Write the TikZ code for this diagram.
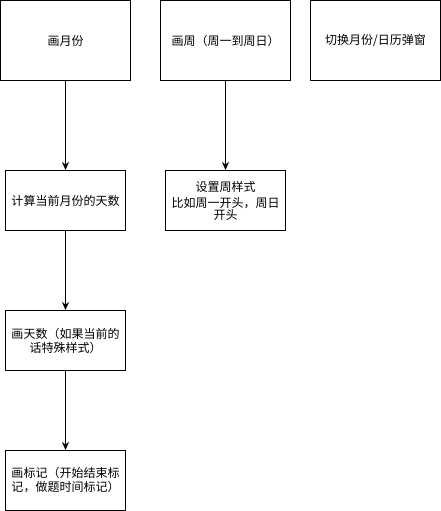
\documentclass[tikz,border=0pt]{standalone}
\usepackage{fontspec}
\setmainfont{Noto Sans CJK SC}
\usetikzlibrary{arrows.meta}
\begin{document}
\begin{tikzpicture}[x=1pt,y=-1pt,
  box/.style={draw=black,line width=1pt,fill=white,inner sep=0pt,align=center,
    font=\fontsize{12pt}{14pt}\selectfont},
  arr/.style={line width=1pt,-{Stealth[length=8pt,width=7pt]}}]
\useasboundingbox (0,0) rectangle (441,511);
\node[box,minimum width=130pt,minimum height=79pt] (m) at (65.5,40.5) {画月份};
\node[box,minimum width=130pt,minimum height=79pt] (w) at (225.5,40.5) {画周（周一到周日）};
\node[box,minimum width=130pt,minimum height=79pt] (s) at (375.5,40.5) {切换月份/日历弹窗};
\node[box,minimum width=120pt,minimum height=60pt] (c) at (65.5,200.5) {计算当前月份的天数};
\node[box,minimum width=120pt,minimum height=60pt] (ws) at (225.5,200.5) {设置周样式\\[2pt]比如周一开头，周日\\[-2pt]开头};
\node[box,minimum width=120pt,minimum height=60pt] (d) at (65.5,340.5) {画天数（如果当前的\\话特殊样式）};
\node[box,minimum width=120pt,minimum height=60pt] (k) at (65.5,480.5) {画标记（开始结束标\\记，做题时间标记）};
\draw[arr] (m) -- (c);
\draw[arr] (w) -- (ws);
\draw[arr] (c) -- (d);
\draw[arr] (d) -- (k);
\end{tikzpicture}
\end{document}
